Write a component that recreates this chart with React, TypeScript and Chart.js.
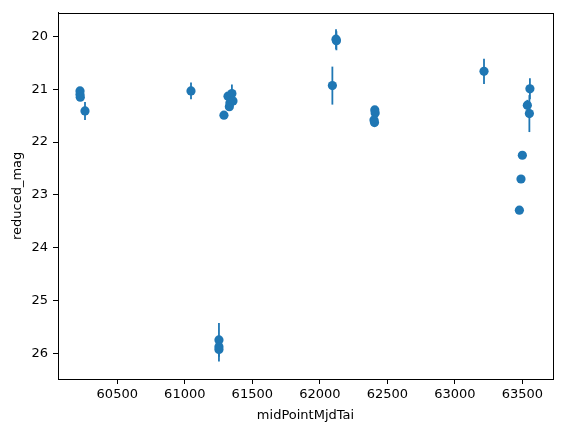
import React, { useEffect, useRef } from "react";
import { Chart, registerables } from "chart.js";

Chart.register(...registerables);

const mjd: number[] = [
  60224, 60224, 60226, 60261, 61046, 61290, 61320, 61349, 61357, 61330, 61334,
  61253, 61253, 61253, 62120, 62123, 62093, 62407, 62410, 62401, 62405, 63216,
  63556, 63537, 63552, 63500, 63490, 63478,
];
const mag: number[] = [
  21.03, 21.1, 21.15, 21.41, 21.03, 21.49, 21.13, 21.08, 21.22, 21.33, 21.26,
  25.75, 25.88, 25.93, 20.05, 20.08, 20.93, 21.39, 21.45, 21.58, 21.63, 20.66,
  20.99, 21.3, 21.46, 22.25, 22.7, 23.29,
];
const magErr: number[] = [
  0.05, 0.05, 0.05, 0.17, 0.16, 0.05, 0.05, 0.17, 0.08, 0.05, 0.05, 0.32, 0.1,
  0.23, 0.19, 0.18, 0.36, 0.05, 0.05, 0.05, 0.05, 0.24, 0.2, 0.1, 0.35, 0.03,
  0.03, 0.02,
];
const xTicks: number[] = [60500, 61000, 61500, 62000, 62500, 63000, 63500];
const yTicks: number[] = [20, 21, 22, 23, 24, 25, 26];

const COLOR = "#1f77b4";
const FONT = "'DejaVu Sans', sans-serif";

const errorBarPlugin = {
  id: "errorBars",
  beforeDatasetsDraw(chart: any) {
    const ctx = chart.ctx;
    const xs = chart.scales.x;
    const ys = chart.scales.y;
    ctx.save();
    ctx.strokeStyle = COLOR;
    ctx.lineWidth = 1.8;
    for (let i = 0; i < mjd.length; i++) {
      const px = xs.getPixelForValue(mjd[i]);
      const y1 = ys.getPixelForValue(mag[i] - magErr[i]);
      const y2 = ys.getPixelForValue(mag[i] + magErr[i]);
      ctx.beginPath();
      ctx.moveTo(px, y1);
      ctx.lineTo(px, y2);
      ctx.stroke();
    }
    ctx.restore();
  },
  afterDraw(chart: any) {
    const { ctx, chartArea } = chart;
    ctx.save();
    ctx.strokeStyle = "#000";
    ctx.lineWidth = 1;
    ctx.strokeRect(
      Math.round(chartArea.left) + 0.5,
      Math.round(chartArea.top) + 0.5,
      Math.round(chartArea.right - chartArea.left),
      Math.round(chartArea.bottom - chartArea.top)
    );
    ctx.restore();
  },
};

export default function App() {
  const ref = useRef<HTMLCanvasElement>(null);
  useEffect(() => {
    if (!ref.current) return;
    const chart = new Chart(ref.current, {
      type: "scatter",
      data: {
        datasets: [
          {
            data: mjd.map((x, i) => ({ x, y: mag[i] })),
            backgroundColor: COLOR,
            borderWidth: 0,
            pointRadius: 4.6,
          },
        ],
      },
      options: {
        animation: false,
        responsive: false,
        events: [],
        layout: { padding: { top: 9, right: 10, left: 0, bottom: 0 } },
        plugins: { legend: { display: false }, tooltip: { enabled: false } },
        scales: {
          x: {
            type: "linear",
            min: 60061,
            max: 63727,
            afterBuildTicks: (s: any) => {
              s.ticks = xTicks.map((v) => ({ value: v }));
            },
            afterFit: (s: any) => {
              s.height = 53;
            },
            grid: {
              drawOnChartArea: false,
              drawTicks: true,
              tickLength: 5,
              color: "#000",
            },
            border: { display: true, color: "#000", width: 1 },
            ticks: {
              color: "#000",
              padding: 3,
              maxRotation: 0,
              font: { family: FONT, size: 13 },
              callback: (v: any) => String(v),
            },
            title: {
              display: true,
              text: "midPointMjdTai",
              color: "#000",
              font: { family: FONT, size: 13 },
              padding: { top: 4, bottom: 9 },
            },
          },
          y: {
            type: "linear",
            reverse: true,
            min: 19.55,
            max: 26.49,
            afterBuildTicks: (s: any) => {
              s.ticks = yTicks.map((v) => ({ value: v }));
            },
            afterFit: (s: any) => {
              s.width = 58;
            },
            grid: {
              drawOnChartArea: false,
              drawTicks: true,
              tickLength: 5,
              color: "#000",
            },
            border: { display: true, color: "#000", width: 1 },
            ticks: {
              color: "#000",
              padding: 5,
              font: { family: FONT, size: 13 },
              callback: (v: any) => String(v),
            },
            title: {
              display: true,
              text: "reduced_mag",
              color: "#000",
              font: { family: FONT, size: 13 },
              padding: { top: 10, bottom: 4 },
            },
          },
        },
      },
      plugins: [errorBarPlugin],
    } as any);
    return () => chart.destroy();
  }, []);
  return (
    <div style={{ position: "fixed", left: 0, top: 0, width: 563, height: 432, background: "#fff" }}>
      <canvas ref={ref} width={563} height={432} style={{ display: "block" }} />
    </div>
  );
}
